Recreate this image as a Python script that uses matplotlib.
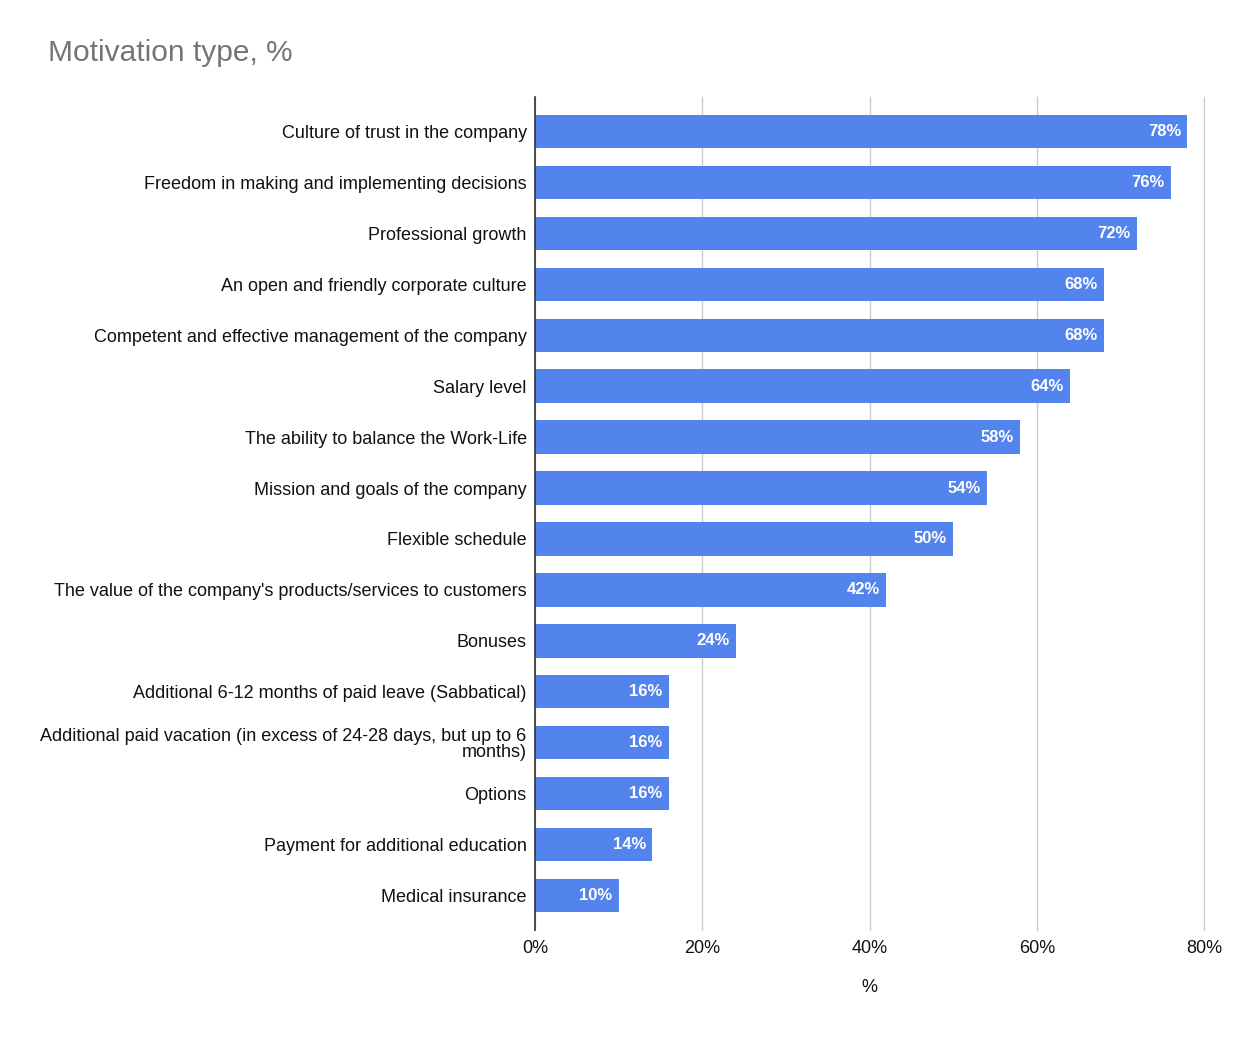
import matplotlib
matplotlib.use("Agg")
import matplotlib.pyplot as plt
from matplotlib.ticker import FuncFormatter

categories = [
    "Culture of trust in the company",
    "Freedom in making and implementing decisions",
    "Professional growth",
    "An open and friendly corporate culture",
    "Competent and effective management of the company",
    "Salary level",
    "The ability to balance the Work-Life",
    "Mission and goals of the company",
    "Flexible schedule",
    "The value of the company's products/services to customers",
    "Bonuses",
    "Additional 6-12 months of paid leave (Sabbatical)",
    "Additional paid vacation (in excess of 24-28 days, but up to 6\nmonths)",
    "Options",
    "Payment for additional education",
    "Medical insurance",
]
values = [78, 76, 72, 68, 68, 64, 58, 54, 50, 42, 24, 16, 16, 16, 14, 10]
xticks = [0, 20, 40, 60, 80]

plt.rcParams['font.family'] = ['Liberation Sans', 'DejaVu Sans']

fig = plt.figure(figsize=(12.58, 10.38), dpi=100)
ax = fig.add_axes([535/1258, 1 - 930/1038, (1204 - 535)/1258, (930 - 97)/1038])

bar_color = "#5383EC"
ypos = list(range(len(categories)))
ax.barh(ypos, values, height=0.65, color=bar_color, zorder=3)

for y, v in zip(ypos, values):
    ax.text(v - 0.75, y, f"{v}%", ha="right", va="center", color="white",
            fontsize=12, fontweight="bold", zorder=4)

ax.set_xlim(0, 80)
ax.set_ylim(15.67, -0.67)
ax.set_yticks(ypos)
ax.set_yticklabels(categories, fontsize=13, color="#111111", linespacing=0.95)
ax.set_xticks(xticks)
ax.xaxis.set_major_formatter(FuncFormatter(lambda x, p: f"{int(x)}%"))
ax.tick_params(axis="x", labelsize=13, colors="#111111", length=0, pad=7)
ax.tick_params(axis="y", length=0, pad=6)
ax.grid(axis="x", color="#cccccc", linewidth=1, zorder=0)
for gl in ax.xaxis.get_gridlines():
    gl.set_clip_on(False)
for s in ["top", "right", "bottom"]:
    ax.spines[s].set_visible(False)
ax.spines["left"].set_color("#333333")
ax.spines["left"].set_linewidth(1.2)
ax.spines["left"].set_zorder(5)

ax.set_xlabel("%", fontsize=13, color="#111111", labelpad=16)

fig.text(48/1258, 1 - 53/1038, "Motivation type, %", fontsize=21.5, color="#757575",
         ha="left", va="center")

fig.savefig("out.png", dpi=100, facecolor="white")
